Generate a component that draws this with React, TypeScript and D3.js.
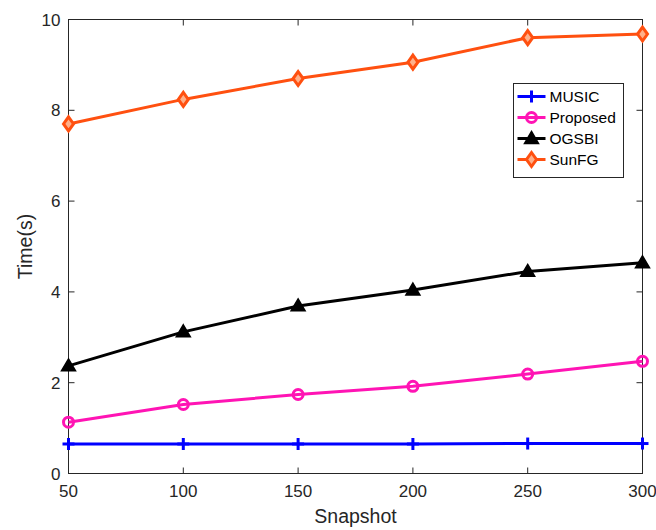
import React from "react";
import * as d3 from "d3";

const snapshots = [50, 100, 150, 200, 250, 300];
const musicTime = [0.65, 0.65, 0.65, 0.65, 0.66, 0.66];
const proposedTime = [1.13, 1.52, 1.74, 1.92, 2.19, 2.47];
const ogsbiTime = [2.37, 3.12, 3.69, 4.04, 4.45, 4.64];
const sunfgTime = [7.7, 8.24, 8.7, 9.06, 9.6, 9.68];
const xTicks = [50, 100, 150, 200, 250, 300];
const yTicks = [0, 2, 4, 6, 8, 10];

const seriesNames = ["MUSIC", "Proposed", "OGSBI", "SunFG"];
const seriesValues = [musicTime, proposedTime, ogsbiTime, sunfgTime];
const seriesColors = ["#0000ff", "#ff14b4", "#000000", "#ff5010"];
const seriesMarkers = ["plus", "circle", "triangle", "diamond"];

const W = 656;
const H = 530;
const m = { left: 68.5, right: 642.5, top: 19.5, bottom: 473.5 };
const font = "'Liberation Sans', Arial, sans-serif";
const textColor = "#262626";

function Marker({ type, x, y, color }: { type: string; x: number; y: number; color: string }) {
  if (type === "plus") {
    return (
      <g stroke={color} strokeWidth={3}>
        <line x1={x - 6} x2={x + 6} y1={y} y2={y} />
        <line x1={x} x2={x} y1={y - 6} y2={y + 6} />
      </g>
    );
  }
  if (type === "circle") {
    return <circle cx={x} cy={y} r={5} fill="none" stroke={color} strokeWidth={3} />;
  }
  if (type === "triangle") {
    const s = 7;
    return (
      <path
        d={`M${x},${y - s} L${x + s},${y + s * 0.7} L${x - s},${y + s * 0.7}Z`}
        fill={color}
        stroke={color}
        strokeWidth={1.5}
      />
    );
  }
  const s = 7;
  return (
    <path
      d={`M${x},${y - s} L${x + 5},${y} L${x},${y + s} L${x - 5},${y}Z`}
      fill="#ffb08a"
      stroke={color}
      strokeWidth={3}
    />
  );
}

export default function App() {
  const x = d3.scaleLinear().domain([50, 300]).range([m.left, m.right]);
  const y = d3.scaleLinear().domain([0, 10]).range([m.bottom, m.top]);
  const line = d3
    .line<number>()
    .x((_, i) => x(snapshots[i]))
    .y((d) => y(d));

  const legX = 513.5;
  const legY = 83.5;
  const legW = 110;
  const legH = 94;

  return (
    <svg width={W} height={H} style={{ position: "absolute", left: 0, top: 0 }} fontFamily={font}>
      <rect width={W} height={H} fill="#fff" />
      {/* axes box */}
      <rect
        x={m.left}
        y={m.top}
        width={m.right - m.left}
        height={m.bottom - m.top}
        fill="none"
        stroke="#262626"
        strokeWidth={1}
      />
      {/* ticks */}
      {xTicks.map((t) => (
        <g key={"x" + t}>
          <line x1={x(t)} x2={x(t)} y1={m.bottom} y2={m.bottom - 6} stroke="#262626" />
          <line x1={x(t)} x2={x(t)} y1={m.top} y2={m.top + 6} stroke="#262626" />
          <text x={x(t)} y={m.bottom + 23.5} textAnchor="middle" fontSize={17} fill={textColor}>
            {t}
          </text>
        </g>
      ))}
      {yTicks.map((t) => (
        <g key={"y" + t}>
          <line x1={m.left} x2={m.left + 6} y1={y(t)} y2={y(t)} stroke="#262626" />
          <line x1={m.right} x2={m.right - 6} y1={y(t)} y2={y(t)} stroke="#262626" />
          <text x={m.left - 8} y={y(t) + 6} textAnchor="end" fontSize={17} fill={textColor}>
            {t}
          </text>
        </g>
      ))}
      <text x={(m.left + m.right) / 2} y={523} textAnchor="middle" fontSize={19.5} fill={textColor}>
        Snapshot
      </text>
      <text
        transform={`translate(32,${(m.top + m.bottom) / 2}) rotate(-90)`}
        textAnchor="middle"
        fontSize={19.5}
        fill={textColor}
      >
        Time(s)
      </text>
      {/* series */}
      {seriesValues.map((vals, si) => (
        <g key={seriesNames[si]}>
          <path d={line(vals) || ""} fill="none" stroke={seriesColors[si]} strokeWidth={3} />
          {vals.map((v, i) => (
            <Marker key={i} type={seriesMarkers[si]} x={x(snapshots[i])} y={y(v)} color={seriesColors[si]} />
          ))}
        </g>
      ))}
      {/* legend */}
      <rect x={legX} y={legY} width={legW} height={legH} fill="#fff" stroke="#262626" strokeWidth={1} />
      {seriesNames.map((name, i) => {
        const cy = legY + 13 + i * 21;
        return (
          <g key={"leg" + name}>
            <line x1={legX + 4} x2={legX + 32} y1={cy} y2={cy} stroke={seriesColors[i]} strokeWidth={3} />
            <Marker type={seriesMarkers[i]} x={legX + 18} y={cy} color={seriesColors[i]} />
            <text x={legX + 36} y={cy + 5.5} fontSize={15.5} fill="#000">
              {name}
            </text>
          </g>
        );
      })}
    </svg>
  );
}
